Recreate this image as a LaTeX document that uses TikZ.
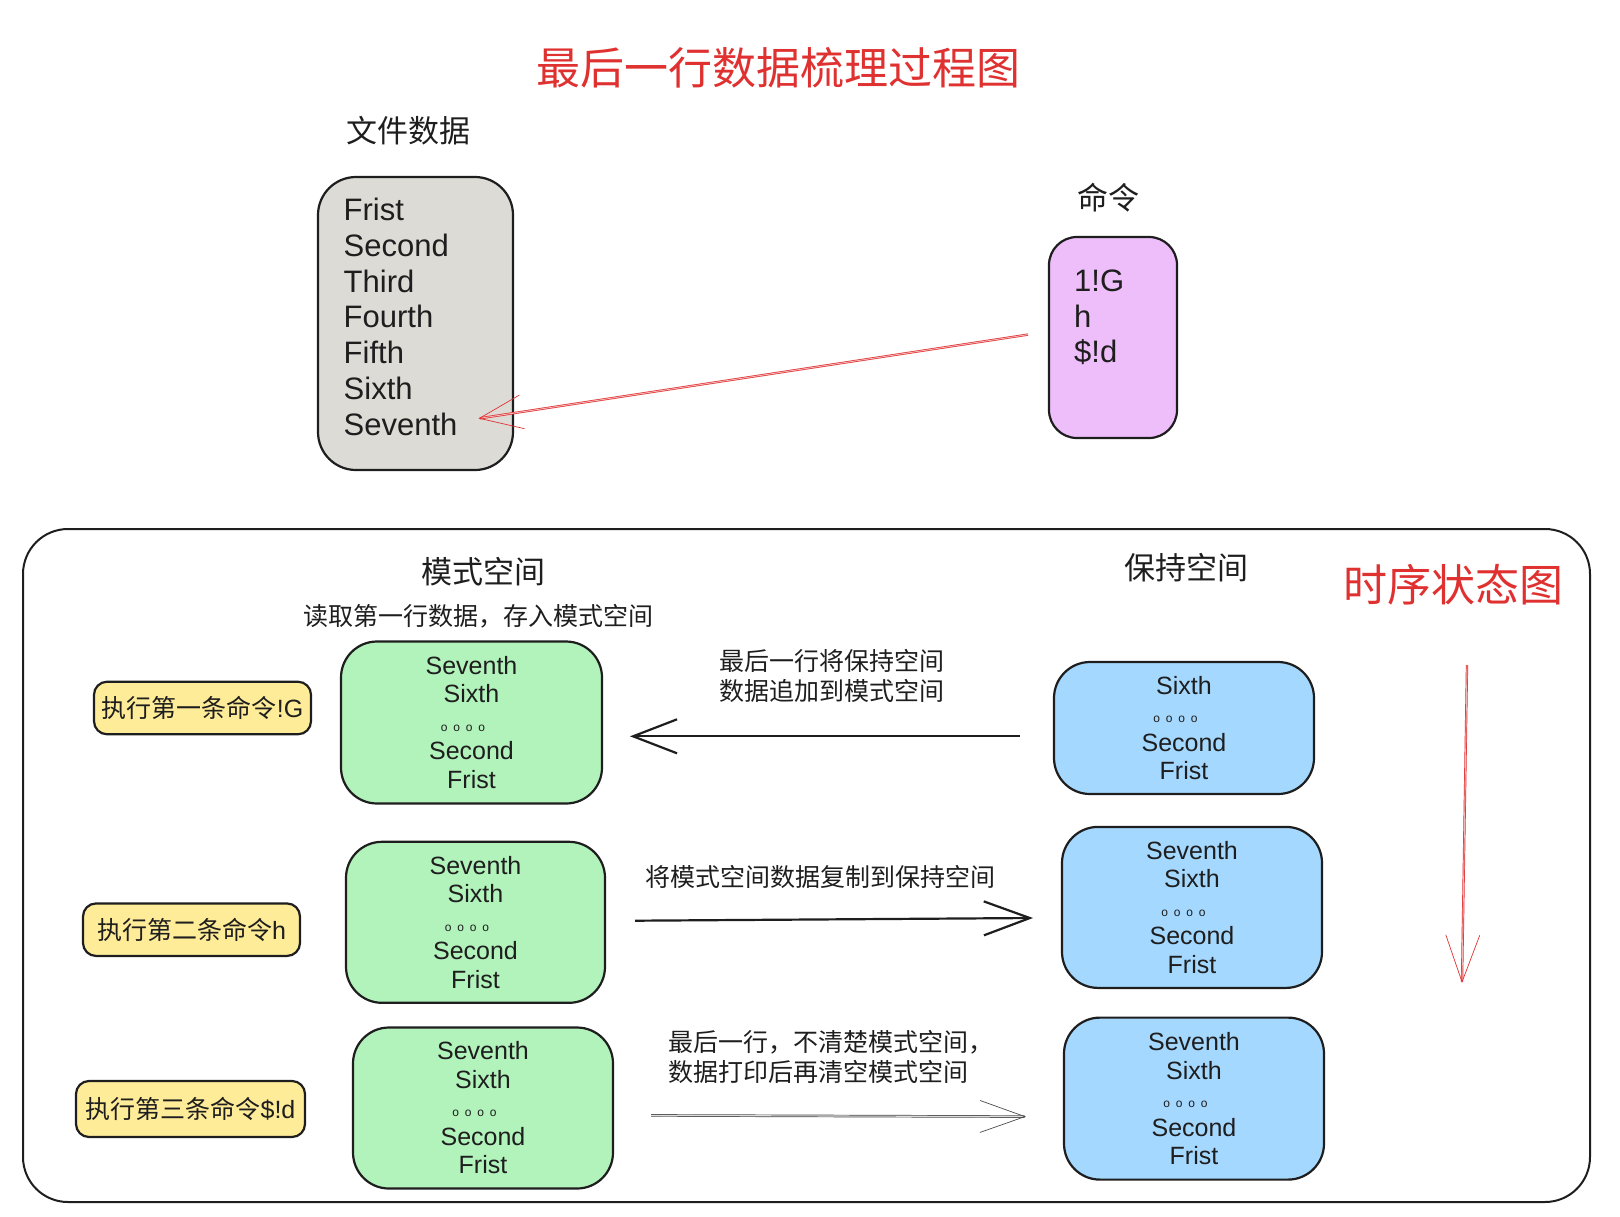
\documentclass[tikz,border=0pt]{standalone}
\usepackage{fontspec}
\setmainfont{Liberation Sans}
\newfontfamily\cjk{Noto Sans CJK SC}
\usetikzlibrary{arrows.meta}
\definecolor{ink}{HTML}{1E1E1E}
\definecolor{redx}{HTML}{E03131}
\definecolor{grayfill}{HTML}{DDDBD6}
\definecolor{purplefill}{HTML}{EEBEFA}
\definecolor{greenfill}{HTML}{B2F2BB}
\definecolor{bluefill}{HTML}{A5D8FF}
\definecolor{yellowfill}{HTML}{FFEC99}
\newcommand\fsz[2]{\fontsize{#1}{#2}\selectfont}
\newcommand\ringrow{\hbox{\fsz{12}{12}o\kern5.8pt o\kern5.8pt o\kern5.8pt o\kern17pt}}
\begin{document}
\begin{tikzpicture}[x=1pt,y=-1pt,
  sk/.style={draw=ink, line width=2.2pt, rounded corners=#1, inner sep=0pt},
  rows/.style={font=\fsz{25}{28.5}, text=ink, align=center},
  lbl/.style={font=\cjk\fsz{25}{30}, text=ink, inner sep=0pt},
  note/.style={font=\fsz{25}{30}, text=ink, inner sep=0pt},
  head/.style={font=\cjk\fsz{31}{36}, text=ink, inner sep=0pt},
  redhead/.style={font=\cjk\fsz{44}{50}, text=redx, inner sep=0pt},
  data/.style={font=\fsz{31}{35.8}, text=ink, align=left, inner sep=0pt, anchor=north west},
  greenbox/.style={sk=36, fill=greenfill, minimum width=260, minimum height=161, rows},
  bluebox/.style={sk=36, fill=bluefill, minimum width=260, minimum height=161, rows},
  yellowbox/.style={sk=13, fill=yellowfill, minimum width=217, minimum height=52.5, note},
  darrow/.style={draw=ink, line width=2.2pt, -{Straight Barb[length=#1, width=34pt]}},
  garrow/.style={draw=ink!80, line width=0.7pt, double=ink!15, double distance=1.1pt, -{Straight Barb[length=45pt, width=32pt]}},
  rarrow/.style={draw=redx, line width=0.7pt, double=redx!35, double distance=0.9pt, -{Straight Barb[length=#1, width=34pt]}}
]
\useasboundingbox (0,0) rectangle (1620,1216);

% titles
\node[redhead] (title) at (778.5,68) {最后一行数据梳理过程图};
\node[head] (filehead) at (408,130.8) {文件数据};
\node[head] (cmdhead) at (1108,198) {命令};

% file data box
\node[sk=38, fill=grayfill, minimum width=195, minimum height=293] (filebox) at (415.5,323.5) {};
\node[data] (filetext) at (343.5,197.8) {Frist\\Second\\Third\\Fourth\\Fifth\\Sixth\\Seventh};

% command box
\node[sk=28, fill=purplefill, minimum width=128, minimum height=201] (cmdbox) at (1113,337.5) {};
\node[data] (cmdtext) at (1074,269.5) {1!G\\h\\\$!d};

\coordinate (rA0) at (1028,334.6);
\coordinate (rA1) at (478.5,418.5);
\draw[rarrow=43pt] (rA0) -- (rA1);

% frame
\node[sk=45, line width=2pt, minimum width=1567, minimum height=673] (frame) at (806.5,865.5) {};

\node[head] (pathead) at (483.5,572) {模式空间};
\node[head] (holdhead) at (1186,568) {保持空间};
\node[redhead] (timehead) at (1453.3,585) {时序状态图};
\node[lbl] (l4) at (478,616.6) {读取第一行数据，存入模式空间};

% row 1
\node[yellowbox] (y1) at (202.5,708) {{\cjk 执行第一条命令}!G};
\node[greenbox, minimum width=261, minimum height=162] (g1) at (471.5,722.5) {Seventh\\Sixth\\\ringrow\\Second\\Frist};
\node[bluebox, minimum height=132] (b1) at (1184,728) {Sixth\\\ringrow\\Second\\Frist};
\node[lbl, align=left, anchor=west] (l1) at (719,676) {最后一行将保持空间\\数据追加到模式空间};
\coordinate (a1s) at (1020,736.3);
\coordinate (a1e) at (630,736.3);
\draw[darrow=44pt] (a1s) -- (a1e);

% row 2
\node[yellowbox] (y2) at (191.5,929.7) {{\cjk 执行第二条命令}h\hspace{8pt}};
\node[greenbox, minimum width=259] (g2) at (475.5,922.3) {Seventh\\Sixth\\\ringrow\\Second\\Frist};
\node[bluebox] (b2) at (1192,907.4) {Seventh\\Sixth\\\ringrow\\Second\\Frist};
\node[lbl] (l2) at (820,876.5) {将模式空间数据复制到保持空间};
\coordinate (a2s) at (635,920.7);
\coordinate (a2e) at (1033,918);
\draw[darrow=46pt] (a2s) -- (a2e);

% row 3
\node[yellowbox, minimum width=229, minimum height=56] (y3) at (190.5,1109) {{\cjk 执行第三条命令}\$!d};
\node[greenbox] (g3) at (483,1108) {Seventh\\Sixth\\\ringrow\\Second\\Frist};
\node[bluebox, minimum height=162] (b3) at (1194,1098.6) {Seventh\\Sixth\\\ringrow\\Second\\Frist};
\node[lbl, align=left, anchor=west] (l3) at (668,1057.2) {最后一行，不清楚模式空间，\\数据打印后再清空模式空间};
\coordinate (a3s) at (651,1115.4);
\coordinate (a3e) at (1026,1116.6);
\draw[garrow] (a3s) -- (a3e);

% time arrow
\coordinate (tv0) at (1467,665);
\coordinate (tv1) at (1462,983);
\draw[rarrow=47pt] (tv0) -- (tv1);
\end{tikzpicture}
\end{document}
